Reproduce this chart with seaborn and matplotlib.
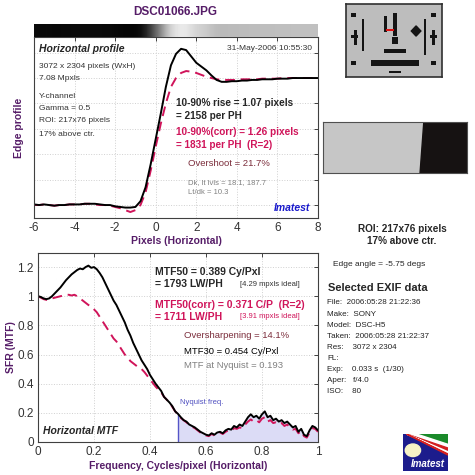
import numpy as np
import seaborn as sns
import matplotlib.pyplot as plt
from matplotlib.patches import Rectangle, Polygon, Circle

# edge profile, x in pixels, level normalised dark=0 / light=1
edge_x = np.round(np.arange(-6, 8.01, 0.25), 2)
edge_black = [0.005, 0.0, 0.005, 0.0, -0.005, 0.0, 0.0, 0.005, 0.005, 0.005, 0.01, 0.01, 0.01,
              0.005, 0.0, 0.0, -0.01, -0.015, -0.02, -0.02, -0.015, 0.03, 0.14, 0.32, 0.52,
              0.72, 0.93, 1.1, 1.19, 1.23, 1.22, 1.17, 1.12, 1.09, 1.06, 1.02, 0.985, 0.97,
              0.97, 0.975, 0.975, 0.98, 0.98, 0.985, 0.985, 0.99, 0.99, 0.99, 0.995, 0.995,
              0.995, 1.0, 1.0, 1.0, 1.0, 1.0, 1.0]
edge_red = [0.0, 0.0, 0.005, 0.0, -0.005, 0.0, 0.0, 0.005, 0.005, 0.005, 0.01, 0.01, 0.005,
            0.0, 0.0, -0.005, -0.015, -0.025, -0.04, -0.055, -0.04, 0.0, 0.1, 0.27, 0.46,
            0.64, 0.8, 0.93, 1.0, 1.04, 1.055, 1.05, 1.04, 1.025, 1.01, 1.0, 0.99, 0.985,
            0.985, 0.985, 0.985, 0.99, 0.99, 0.99, 0.99, 0.995, 0.995, 0.995, 0.995, 1.0,
            1.0, 1.0, 1.0, 1.0, 1.0, 1.0, 1.0]

# MTF, frequency in cycles/pixel
freq = np.round(np.arange(0, 1.001, 0.01), 2)
mtf_black = [1.0, 0.995, 0.985, 0.98, 0.985, 1.0, 1.02, 1.04, 1.06, 1.085,
             1.11, 1.13, 1.15, 1.165, 1.18, 1.19, 1.185, 1.2, 1.21, 1.195,
             1.2, 1.185, 1.16, 1.13, 1.09, 1.05, 1.01, 0.97, 0.94, 0.9,
             0.86, 0.82, 0.77, 0.73, 0.68, 0.64, 0.6, 0.56, 0.53, 0.5,
             0.46, 0.43, 0.4, 0.375, 0.35, 0.31, 0.29, 0.27, 0.245, 0.21,
             0.193, 0.17, 0.15, 0.14, 0.12, 0.11, 0.1, 0.085, 0.07, 0.06,
             0.05, 0.045, 0.06, 0.05, 0.065, 0.07, 0.06, 0.08, 0.09, 0.085,
             0.11, 0.1, 0.12, 0.11, 0.14, 0.17, 0.19, 0.17, 0.18, 0.16,
             0.19, 0.21, 0.17, 0.18, 0.15, 0.16, 0.14, 0.15, 0.13, 0.14,
             0.12, 0.1, 0.11, 0.07, 0.09, 0.05, 0.04, 0.08, 0.11, 0.1, 0.08]
mtf_red = [1.0, 0.99, 0.98, 0.975, 0.98, 0.985, 0.99, 0.995, 1.0, 1.005,
           1.01, 1.01, 1.005, 1.01, 1.0, 0.985, 0.97, 0.955, 0.94, 0.93,
           0.91, 0.89, 0.86, 0.83, 0.8, 0.77, 0.74, 0.71, 0.69, 0.66,
           0.63, 0.6, 0.58, 0.555, 0.54, 0.525, 0.51, 0.5, 0.48, 0.455,
           0.43, 0.405, 0.38, 0.36, 0.34, 0.31, 0.29, 0.27, 0.24, 0.21,
           0.19, 0.165, 0.15, 0.135, 0.12, 0.105, 0.095, 0.08, 0.065, 0.055,
           0.045, 0.04, 0.055, 0.045, 0.06, 0.065, 0.055, 0.07, 0.08, 0.075,
           0.095, 0.09, 0.1, 0.095, 0.12, 0.14, 0.155, 0.14, 0.15, 0.135,
           0.16, 0.17, 0.14, 0.15, 0.13, 0.135, 0.12, 0.13, 0.11, 0.12,
           0.1, 0.085, 0.09, 0.06, 0.075, 0.04, 0.03, 0.065, 0.095, 0.09, 0.07]
nyquist = 0.5

exif_lines = ["File:  2006:05:28 21:22:36", "Make:  SONY", "Model:  DSC-H5",
              "Taken:  2006:05:28 21:22:37", "Res:    3072 x 2304", "FL:",
              "Exp:    0.033 s  (1/30)", "Aper:   f/4.0", "ISO:    80"]

PURPLE = "#561d68"
CRIMSON = "#d0145a"
DKRED = "#7b2d3b"
GREY = "#808080"

sns.set_style("white")
plt.rcParams['font.family'] = ['Liberation Sans', 'DejaVu Sans']
plt.rcParams['axes.unicode_minus'] = False

W = 475.0
def fx(x):
    return x / W
def fy(y):
    return 1 - y / W

fig = plt.figure(figsize=(4.75, 4.75), dpi=100)
fig.patch.set_facecolor("white")

def style_axes(ax):
    for s in ax.spines.values():
        s.set_color("#404040")
        s.set_linewidth(0.8)
    ax.tick_params(direction="in", length=3, width=0.7, top=True, right=True,
                   labelsize=8.5, labelcolor="#333333", color="#404040", pad=3)
    ax.grid(True, color="#d0d0d0", linestyle=":", linewidth=0.7)

# ---- edge profile
ax1 = fig.add_axes([fx(34), fy(218), (318 - 34) / W, (218 - 37) / W])
sns.lineplot(x=edge_x, y=edge_red, ax=ax1, color=CRIMSON, linewidth=1.4, linestyle="--")
ax1.lines[-1].set_dashes([5, 3])
sns.lineplot(x=edge_x, y=edge_black, ax=ax1, color="black", linewidth=1.4)
ax1.set_xlim(-6, 8)
ax1.set_ylim(-0.102, 1.323)
ax1.set_xticks(range(-6, 9, 2))
ax1.set_yticks([0, 0.2, 0.4, 0.6, 0.8, 1.0, 1.2])
ax1.set_yticklabels([])
style_axes(ax1)
ax1.set_xlabel("Pixels (Horizontal)", color=PURPLE, fontweight="bold", fontsize=7.5, labelpad=1)
ax1.set_ylabel("Edge profile", color=PURPLE, fontweight="bold", fontsize=7.5, labelpad=4)

# grey strip showing the edge
bar = fig.add_axes([fx(34), fy(37), (318 - 34) / W, 13 / W])
bar.imshow([edge_black], cmap="gray", vmin=-0.05, vmax=1.35, aspect="auto",
           extent=(-6, 8, 0, 1), interpolation="bilinear")
bar.set_xticks([])
bar.set_yticks([])
for s in bar.spines.values():
    s.set_visible(False)

# ---- MTF
ax2 = fig.add_axes([fx(38), fy(442), 280 / W, (442 - 252.5) / W])
hi = freq >= nyquist
ax2.fill_between(freq[hi], np.array(mtf_black)[hi], color="#dcdcf6", linewidth=0)
ax2.vlines(nyquist, 0, mtf_black[list(freq).index(nyquist)], color="#5555c8", linewidth=1)
sns.lineplot(x=freq, y=mtf_red, ax=ax2, color=CRIMSON, linewidth=1.4, linestyle="--")
ax2.lines[-1].set_dashes([5, 3])
sns.lineplot(x=freq, y=mtf_black, ax=ax2, color="black", linewidth=1.4)
ax2.set_xlim(0, 1)
ax2.set_ylim(0, 1.3)
ax2.set_xticks([0, 0.2, 0.4, 0.6, 0.8, 1])
ax2.set_xticklabels(["0", "0.2", "0.4", "0.6", "0.8", "1"])
ax2.set_yticks([0, 0.2, 0.4, 0.6, 0.8, 1, 1.2])
ax2.set_yticklabels(["0", "0.2", "0.4", "0.6", "0.8", "1", "1.2"])
style_axes(ax2)
ax2.set_xlabel("Frequency, Cycles/pixel (Horizontal)", color=PURPLE, fontweight="bold",
               fontsize=7.5, labelpad=2)
ax2.set_ylabel("SFR (MTF)", color=PURPLE, fontweight="bold", fontsize=7.5, labelpad=1)

def t(x, y, s, **kw):
    kw.setdefault("va", "center")
    fig.text(fx(x), fy(y), s, **kw)

t(175, 12, "DSC01066.JPG", color=PURPLE, fontweight="bold", fontsize=8.5, ha="center")

# text in edge plot
t(39, 49, "Horizontal profile", fontweight="bold", fontstyle="italic", fontsize=7.5)
t(312, 49, "31-May-2006 10:55:30", fontsize=6, ha="right", color="#333333")
for yy, s in [(66, "3072 x 2304 pixels (WxH)"), (79, "7.08 Mpxls"), (96, "Y-channel"),
              (108, "Gamma = 0.5"), (121, "ROI: 217x76 pixels"), (134, "17% above ctr.")]:
    t(39, yy, s, fontsize=6, color="#333333")
t(176, 103, "10-90% rise = 1.07 pixels", fontweight="bold", fontsize=7.2)
t(176, 116, "= 2158 per PH", fontweight="bold", fontsize=7.2)
t(176, 132, "10-90%(corr) = 1.26 pixels", fontweight="bold", fontsize=7.2, color=CRIMSON)
t(176, 145, "= 1831 per PH  (R=2)", fontweight="bold", fontsize=7.2, color=CRIMSON)
t(188, 164, "Overshoot = 21.7%", fontsize=6.8, color=DKRED)
t(188, 183, "Dk, lt lvls = 18.1, 187.7", fontsize=5.5, color=GREY)
t(188, 193, "Lt/dk = 10.3", fontsize=5.5, color=GREY)
t(310, 208, "Imatest", fontweight="bold", fontstyle="italic", fontsize=7.5,
  color="#1a1acc", ha="right")

# text in MTF plot
t(155, 272, "MTF50 = 0.389 Cy/Pxl", fontweight="bold", fontsize=7.5)
t(155, 284, "= 1793 LW/PH", fontweight="bold", fontsize=7.5)
t(240, 284, "[4.29 mpxls ideal]", fontsize=5.5, color="#333333")
t(155, 305.5, "MTF50(corr) = 0.371 C/P  (R=2)", fontweight="bold", fontsize=7.5, color=CRIMSON)
t(155, 317, "= 1711 LW/PH", fontweight="bold", fontsize=7.5, color=CRIMSON)
t(240, 317, "[3.91 mpxls ideal]", fontsize=5.5, color=CRIMSON)
t(184, 335, "Oversharpening = 14.1%", fontsize=6.8, color=DKRED)
t(184, 351, "MTF30 = 0.454 Cy/Pxl", fontsize=6.8, color="black")
t(184, 365, "MTF at Nyquist = 0.193", fontsize=6.8, color=GREY)
t(180, 402, "Nyquist freq.", fontsize=5.5, color="#5050c0")
t(43, 431, "Horizontal MTF", fontweight="bold", fontstyle="italic", fontsize=7.5)

# ---- right column
thumb = fig.add_axes([fx(346), fy(77), 96 / W, 73 / W])
thumb.set_xlim(0, 1)
thumb.set_ylim(1, 0)
thumb.set_facecolor("#bdbdbd")
for (x0, y0, w, h) in [(0.49, 0.12, 0.04, 0.32), (0.40, 0.16, 0.03, 0.22), (0.40, 0.62, 0.23, 0.05),
                       (0.26, 0.77, 0.50, 0.08), (0.05, 0.42, 0.07, 0.05), (0.08, 0.36, 0.03, 0.2),
                       (0.88, 0.42, 0.07, 0.05), (0.90, 0.36, 0.03, 0.2), (0.05, 0.12, 0.05, 0.06),
                       (0.89, 0.12, 0.05, 0.06), (0.05, 0.78, 0.05, 0.06), (0.89, 0.78, 0.05, 0.06),
                       (0.48, 0.45, 0.06, 0.1), (0.17, 0.2, 0.02, 0.45), (0.81, 0.2, 0.02, 0.5),
                       (0.45, 0.92, 0.12, 0.03)]:
    thumb.add_patch(Rectangle((x0, y0), w, h, color="#141414", linewidth=0))
thumb.add_patch(Polygon([(0.73, 0.3), (0.78, 0.37), (0.73, 0.44), (0.68, 0.37)], color="#141414"))
thumb.add_patch(Rectangle((0.42, 0.34), 0.08, 0.035, color="#e01010", linewidth=0))
thumb.set_xticks([])
thumb.set_yticks([])
for s in thumb.spines.values():
    s.set_color("#303030")
    s.set_linewidth(1.2)

roi = fig.add_axes([fx(323), fy(173), 144 / W, 51 / W])
roi.set_xlim(0, 1)
roi.set_ylim(0, 1)
roi.set_facecolor("#c6c6c6")
roi.add_patch(Polygon([(0.674, 0), (0.70, 1), (1, 1), (1, 0)], color="#161212"))
roi.set_xticks([])
roi.set_yticks([])
for s in roi.spines.values():
    s.set_color("#505050")
    s.set_linewidth(0.8)

t(402, 229, "ROI: 217x76 pixels", fontweight="bold", fontsize=7.2, ha="center")
t(402, 241, "17% above ctr.", fontweight="bold", fontsize=7.2, ha="center")
t(333, 264, "Edge angle = -5.75 degs", fontsize=6)
t(328, 288, "Selected EXIF data", fontweight="bold", fontsize=8)
for i, s in enumerate(exif_lines):
    t(327, 303 + 11.1 * i, s, fontsize=5.8, color="#222222")

# logo
logo = fig.add_axes([fx(403), fy(471), 45 / W, 37 / W])
logo.set_xlim(0, 1)
logo.set_ylim(0, 1)
logo.set_facecolor("#1c1c8c")
logo.add_patch(Polygon([(0.3, 1), (1, 1), (1, 0.72)], color="#1a8a2a"))
logo.add_patch(Polygon([(0.08, 1), (0.3, 1), (1, 0.72), (1, 0.62)], color="white"))
logo.add_patch(Polygon([(0.08, 1), (1, 0.62), (1, 0.55)], color="#d42020"))
logo.add_patch(Polygon([(0.08, 1), (1, 0.52), (1, 0.48)], color="white"))
logo.add_patch(Polygon([(0.08, 1), (1, 0.46), (1, 0.43)], color="#d42020"))
logo.add_patch(Circle((0.22, 0.56), 0.17, color="#f6f2c6"))
logo.text(0.55, 0.2, "Imatest", color="white", fontweight="bold", fontstyle="italic",
          fontsize=7, ha="center", va="center")
logo.set_xticks([])
logo.set_yticks([])
for s in logo.spines.values():
    s.set_visible(False)

fig.savefig("out.png", dpi=100)
